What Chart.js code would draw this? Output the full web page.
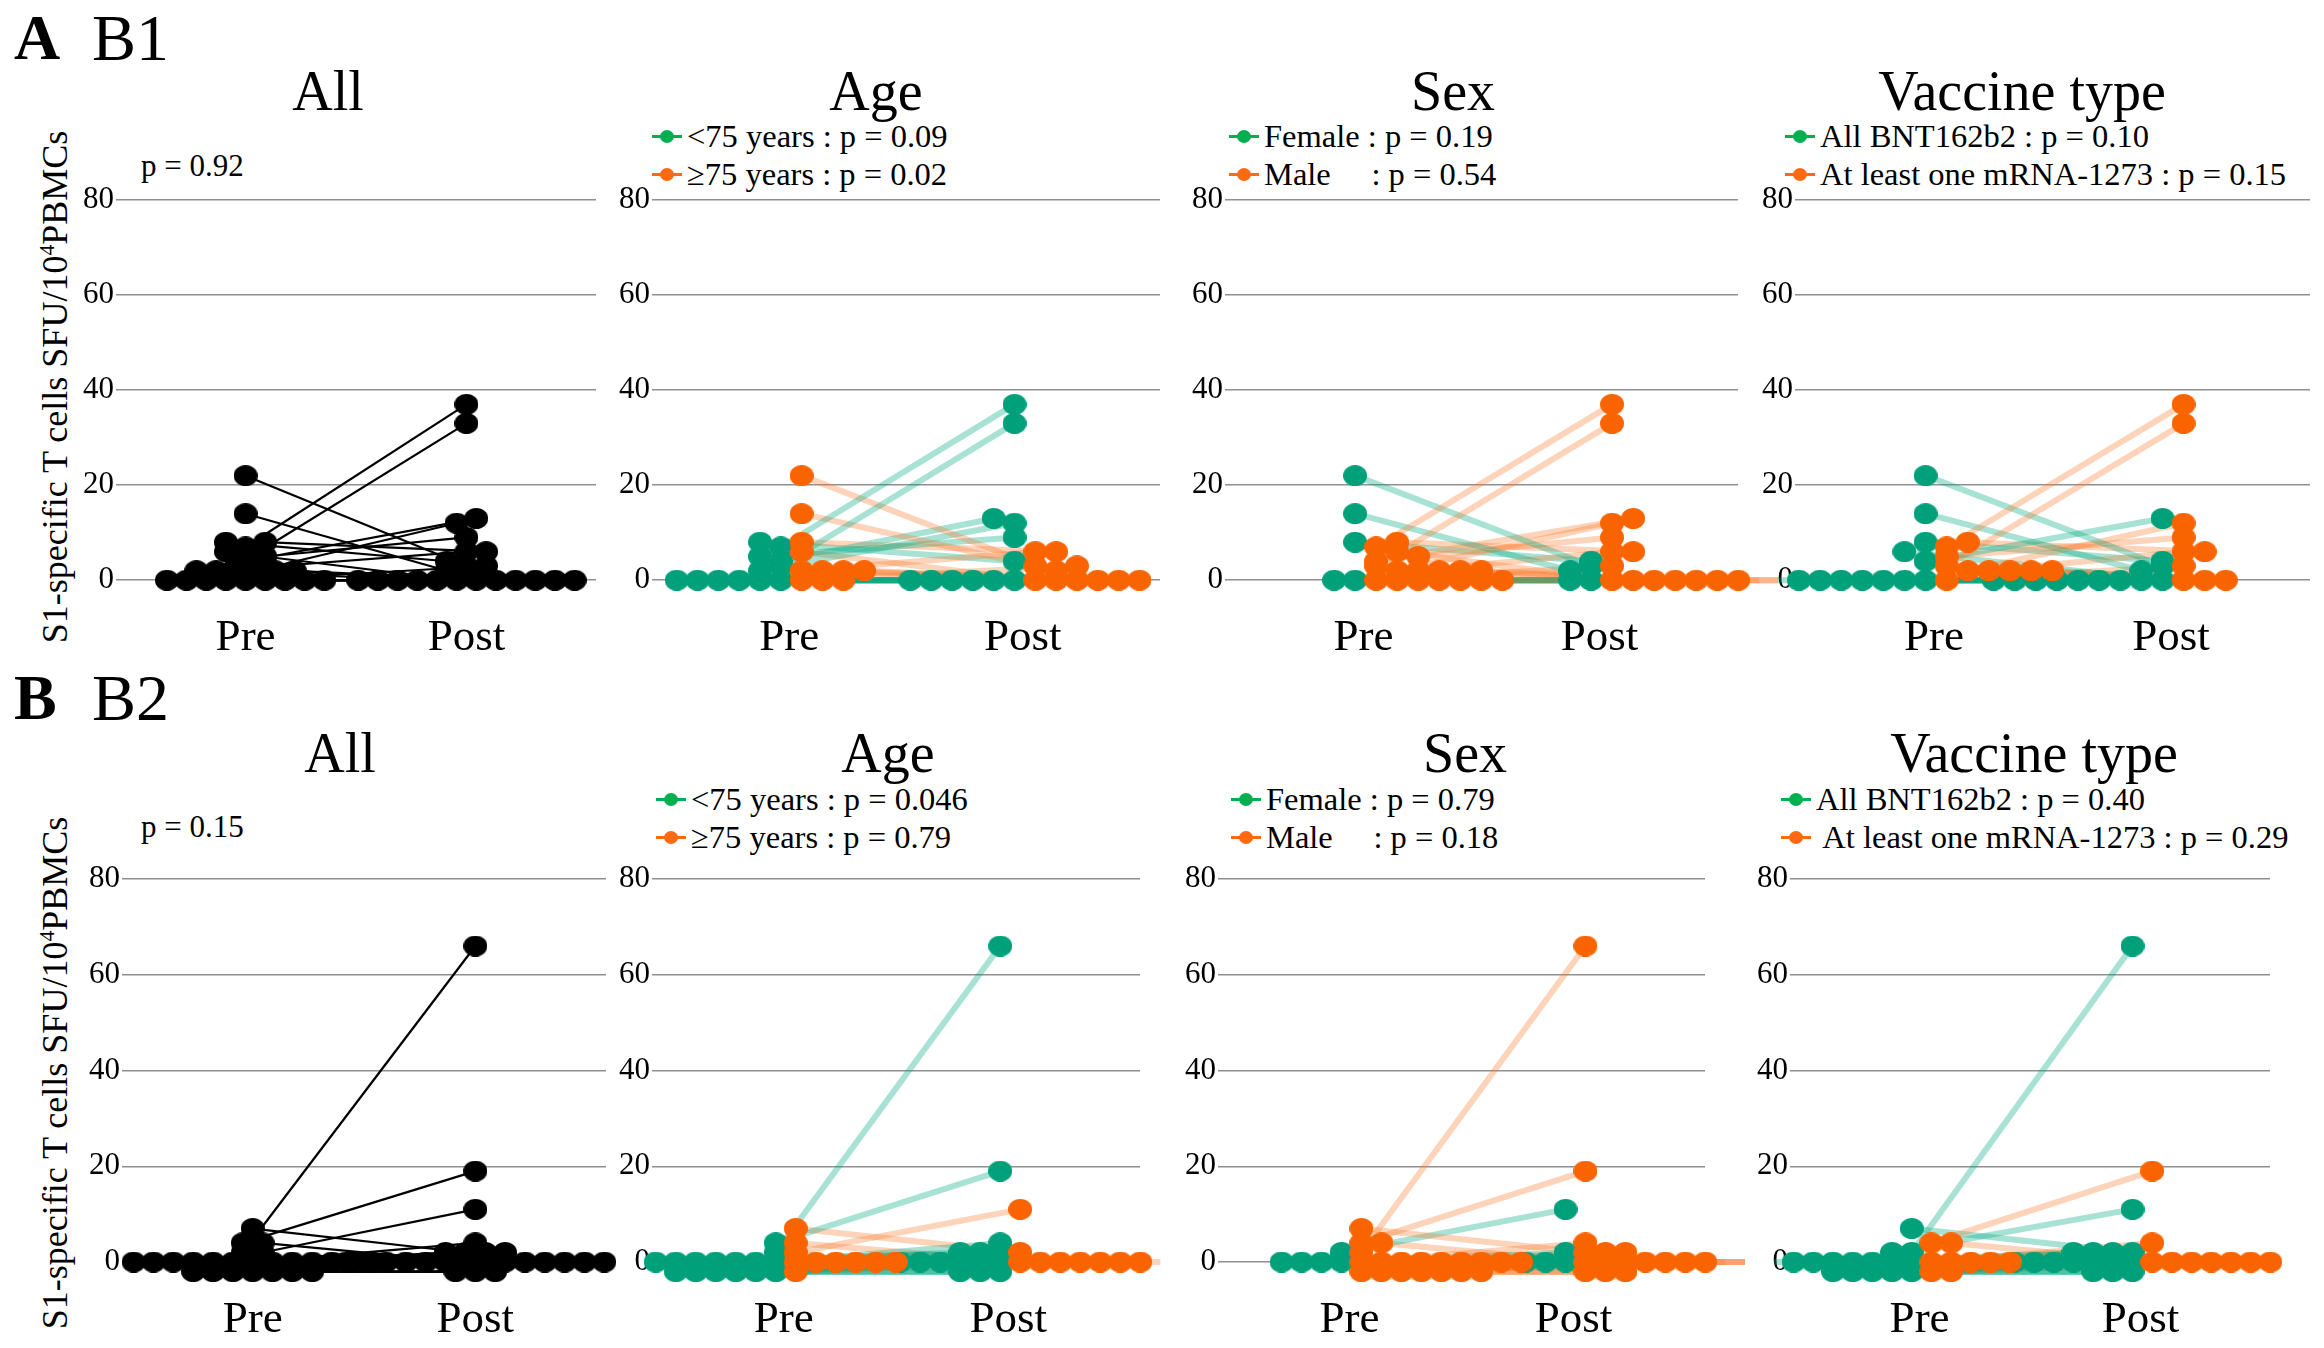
<!DOCTYPE html>
<html>
<head>
<meta charset="utf-8">
<script src="https://cdn.jsdelivr.net/npm/chart.js@4.4.0/dist/chart.umd.min.js"></script>
<style>
    body { margin: 0; background: #fff; width: 2324px; height: 1348px; position: relative; overflow: hidden;
           font-family: "Liberation Serif", "Times New Roman", serif; color: #000; }
    .txt { position: absolute; line-height: 1; white-space: pre; }
    .ytitle { position: absolute; line-height: 1; white-space: nowrap; transform: translate(-50%, -50%) rotate(-90deg); }
    .marker { position: absolute; width: 30px; height: 3px; }
    .marker span { position: absolute; left: 8px; top: -5px; width: 14px; height: 13px; border-radius: 50%; }
    canvas { position: absolute; }
</style>
</head>
<body>
<script>
// ---- data ----
const timeLabels = ['Pre', 'Post'];
const yTickValues = [0, 20, 40, 60, 80];
const panelTitles = ['All', 'Age', 'Sex', 'Vaccine type'];

// B1 cohort, one entry per participant
const b1Pre     = [7, 3, 22, 14, 4, 2, 5, 8, 2, 8, 0, 0, 0, 0, 0, 0, 2, 2, 6, 0, 0, 2, 0];
const b1Post    = [37, 33, 3, 2, 13, 12, 9, 6, 6, 4, 0, 0, 0, 0, 0, 0, 0, 0, 0, 3, 0, 0, 0];
const b1Age     = [0, 0, 1, 1, 0, 0, 0, 1, 1, 0, 0, 0, 0, 0, 0, 0, 1, 1, 1, 1, 1, 1, 1];   // 0: <75, 1: >=75
const b1Sex     = [1, 1, 0, 0, 1, 1, 1, 1, 1, 0, 0, 0, 1, 1, 1, 1, 1, 1, 1, 1, 1, 1, 1];   // 0: female, 1: male
const b1Vaccine = [1, 1, 0, 0, 0, 1, 1, 1, 1, 0, 0, 0, 0, 0, 0, 0, 1, 1, 0, 1, 0, 1, 0];   // 0: BNT162b2, 1: mRNA-1273

// B2 cohort
const b2Pre     = [2, 4, 0, 0, 0, 0, 0, 0, 0, -2, -2, -2, -2, -2, -2, 7, 2, 4, -2, 0, 0, 0, 0, 0, 0];
const b2Post    = [66, 19, 4, 2, 2, 2, 0, 0, 0, -2, 0, 0, -2, -2, 0, 2, 11, 0, 0, 0, 0, 0, 0, 0, 0];
const b2Age     = [0, 0, 0, 0, 0, 0, 0, 0, 0, 0, 0, 0, 0, 0, 0, 1, 1, 1, 1, 1, 1, 1, 1, 1, 1];
const b2Sex     = [1, 1, 1, 0, 1, 1, 0, 0, 1, 1, 1, 1, 1, 1, 1, 1, 0, 1, 1, 1, 1, 1, 1, 1, 0];
const b2Vaccine = [0, 1, 1, 0, 0, 0, 0, 0, 0, 0, 0, 0, 0, 0, 1, 0, 0, 1, 1, 1, 1, 1, 1, 0, 0];

const pAllB1 = 'p = 0.92';
const pAllB2 = 'p = 0.15';
const ageLegendB1 = ['<75 years : p = 0.09', '\u226575 years : p = 0.02'];
const sexLegendB1 = ['Female : p = 0.19', 'Male     : p = 0.54'];
const vaccineLegendB1 = ['All BNT162b2 : p = 0.10', 'At least one mRNA-1273 : p = 0.15'];
const ageLegendB2 = ['<75 years : p = 0.046', '\u226575 years : p = 0.79'];
const sexLegendB2 = ['Female : p = 0.79', 'Male     : p = 0.18'];
const vaccineLegendB2 = ['All BNT162b2 : p = 0.40', ' At least one mRNA-1273 : p = 0.29'];

// ---- styles / layout ----
const FONT = '"Liberation Serif", "Times New Roman", serif';
const DOT_COLORS = ['#00a07a', '#f96400'];
const LINE_COLORS = ['rgba(0, 170, 130, 0.34)', 'rgba(250, 125, 50, 0.34)'];
const LEGEND_COLORS = ['#00b050', '#ff6a10'];
const X_POS = { Pre: 27, Post: 73 };
const BIN = 2.5;     // values closer than this share one row of the swarm
const STEP = 4.1;    // spacing of neighbouring dots, x units
const YW = 50, XH = 80, PT = 40, PR = 40;

const rows = [
    { y80: 200, y0: 580, grids: [[116, 596], [652, 1160], [1225, 1738], [1795, 2310]] },
    { y80: 879, y0: 1262, grids: [[122, 606], [652, 1140], [1218, 1705], [1790, 2270]] }
];

// slightly wide dots, like the original markers
function dotImage(color) {
    const c = document.createElement('canvas');
    c.width = 24;
    c.height = 21;
    const ctx = c.getContext('2d');
    ctx.fillStyle = color;
    ctx.beginPath();
    ctx.ellipse(12, 10.5, 12, 10.5, 0, 0, Math.PI * 2);
    ctx.fill();
    return c;
}

function addText(text, x, baseline, size, opts = {}) {
    const d = document.createElement('div');
    d.className = 'txt';
    d.textContent = text;
    d.style.fontSize = size + 'px';
    d.style.left = x + 'px';
    d.style.top = (baseline - 0.84 * size) + 'px';
    if (opts.center) d.style.transform = 'translateX(-50%)';
    if (opts.bold) d.style.fontWeight = 'bold';
    document.body.appendChild(d);
}

function addLegend(lines, x, centers) {
    lines.forEach((t, g) => {
        const m = document.createElement('div');
        m.className = 'marker';
        m.style.left = x + 'px';
        m.style.top = (centers[g] - 1) + 'px';
        m.style.background = LEGEND_COLORS[g];
        const dot = document.createElement('span');
        dot.style.background = LEGEND_COLORS[g];
        m.appendChild(dot);
        document.body.appendChild(m);
        addText(t, x + 35, centers[g] + 11, 32.5);
    });
}

// horizontal spread of dots sharing (about) the same value
function swarmX(values, groups, center, prio) {
    const xs = new Array(values.length);
    const bins = new Map();
    values.forEach((v, i) => {
        const key = Math.round(v / BIN);
        if (!bins.has(key)) bins.set(key, []);
        bins.get(key).push(i);
    });
    bins.forEach(idx => {
        idx.sort((a, b) => prio[b] - prio[a] || a - b);
        if (!groups) {
            const n = idx.length;
            const slots = [];
            for (let k = 0; k < n; k++) slots.push((k - (n - 1) / 2) * STEP);
            slots.sort((a, b) => Math.abs(a) - Math.abs(b) || a - b);
            idx.forEach((i, k) => { xs[i] = center + slots[k]; });
        } else {
            let left = 0, right = 0;
            idx.forEach(i => {
                if (groups[i] === 0) xs[i] = center - (left++) * STEP;
                else xs[i] = center + (++right) * STEP;
            });
        }
    });
    return xs;
}

function buildDatasets(pre, post, groups) {
    const prio = pre.map((v, i) => Math.abs(post[i] - v));
    const shift = groups ? -0.4 * STEP : 0;
    const xPre = swarmX(pre, groups, X_POS.Pre + shift, prio);
    const xPost = swarmX(post, groups, X_POS.Post + shift, prio);
    const datasets = [];
    pre.forEach((v, i) => {
        datasets.push({
            showLine: true,
            data: [{ x: xPre[i], y: v }, { x: xPost[i], y: post[i] }],
            borderColor: groups ? LINE_COLORS[groups[i]] : '#000',
            borderWidth: groups ? 6 : 2.2,
            pointRadius: 0,
            order: 3,
            clip: false
        });
    });
    const groupIds = groups ? [0, 1] : [0];
    groupIds.forEach(g => {
        const pts = [];
        pre.forEach((v, i) => {
            if (groups && groups[i] !== g) return;
            pts.push({ x: xPre[i], y: v });
            pts.push({ x: xPost[i], y: post[i] });
        });
        datasets.push({
            data: pts,
            pointStyle: dotImage(groups ? DOT_COLORS[g] : '#000'),
            pointRadius: 11,
            order: g === 1 ? 0 : 1,
            clip: false
        });
    });
    return datasets;
}

function makePanel(row, col, pre, post, groups) {
    const r = rows[row];
    const [gl, gr] = r.grids[col];
    const pxPerUnit = (r.y0 - r.y80) / 80;
    const yMin = -5;
    const areaH = (80 - yMin) * pxPerUnit;
    const canvas = document.createElement('canvas');
    canvas.width = YW + (gr - gl) + PR;
    canvas.height = PT + Math.round(areaH) + XH;
    canvas.style.left = (gl - YW) + 'px';
    canvas.style.top = (r.y80 - PT) + 'px';
    document.body.appendChild(canvas);

    new Chart(canvas, {
        type: 'scatter',
        data: { datasets: buildDatasets(pre, post, groups) },
        options: {
            responsive: false,
            animation: false,
            devicePixelRatio: 1,
            layout: { padding: { top: PT, right: PR, left: 0, bottom: 0 } },
            plugins: { legend: { display: false }, tooltip: { enabled: false } },
            scales: {
                x: {
                    type: 'linear', min: 0, max: 100,
                    grid: { display: false, drawTicks: false },
                    border: { display: false },
                    afterBuildTicks: a => { a.ticks = timeLabels.map(t => ({ value: X_POS[t] })); },
                    afterFit: a => { a.height = XH; },
                    ticks: {
                        autoSkip: false, maxRotation: 0, padding: 7, color: '#000',
                        font: { family: FONT, size: 45 },
                        callback: v => (v === X_POS.Pre ? timeLabels[0] : timeLabels[1])
                    }
                },
                y: {
                    min: yMin, max: 80,
                    afterBuildTicks: a => { a.ticks = yTickValues.map(v => ({ value: v })); },
                    afterFit: a => { a.width = YW; },
                    grid: { color: '#909090', lineWidth: 1.5, drawTicks: false },
                    border: { display: false },
                    ticks: { padding: 2, color: '#000', font: { family: FONT, size: 31 } }
                }
            }
        }
    });
}

// ---- text ----
addText('A', 14, 60, 64, { bold: true });
addText('B1', 92, 60, 66);
addText('B', 14, 720, 64, { bold: true });
addText('B2', 92, 720, 66);

[[328, 876, 1453, 2022], [340, 888, 1465, 2034]].forEach((cx, row) => {
    const base = row === 0 ? 110 : 772;
    panelTitles.forEach((t, i) => addText(t, cx[i], base, 56, { center: true }));
});

addText(pAllB1, 141, 176, 31);
addText(pAllB2, 141, 837, 31);

addLegend(ageLegendB1, 652, [136, 174]);
addLegend(sexLegendB1, 1229, [136, 174]);
addLegend(vaccineLegendB1, 1785, [136, 174]);
addLegend(ageLegendB2, 656, [799, 837]);
addLegend(sexLegendB2, 1231, [799, 837]);
addLegend(vaccineLegendB2, 1781, [799, 837]);

[387, 1073].forEach(cy => {
    const d = document.createElement('div');
    d.className = 'ytitle';
    d.style.fontSize = '36px';
    d.style.left = '55px';
    d.style.top = cy + 'px';
    d.innerHTML = 'S1-specific T cells SFU/10<sup style="font-size:0.6em">4</sup>PBMCs';
    document.body.appendChild(d);
});

// ---- charts ----
makePanel(0, 0, b1Pre, b1Post, null);
makePanel(0, 1, b1Pre, b1Post, b1Age);
makePanel(0, 2, b1Pre, b1Post, b1Sex);
makePanel(0, 3, b1Pre, b1Post, b1Vaccine);
makePanel(1, 0, b2Pre, b2Post, null);
makePanel(1, 1, b2Pre, b2Post, b2Age);
makePanel(1, 2, b2Pre, b2Post, b2Sex);
makePanel(1, 3, b2Pre, b2Post, b2Vaccine);
</script>
</body>
</html>
